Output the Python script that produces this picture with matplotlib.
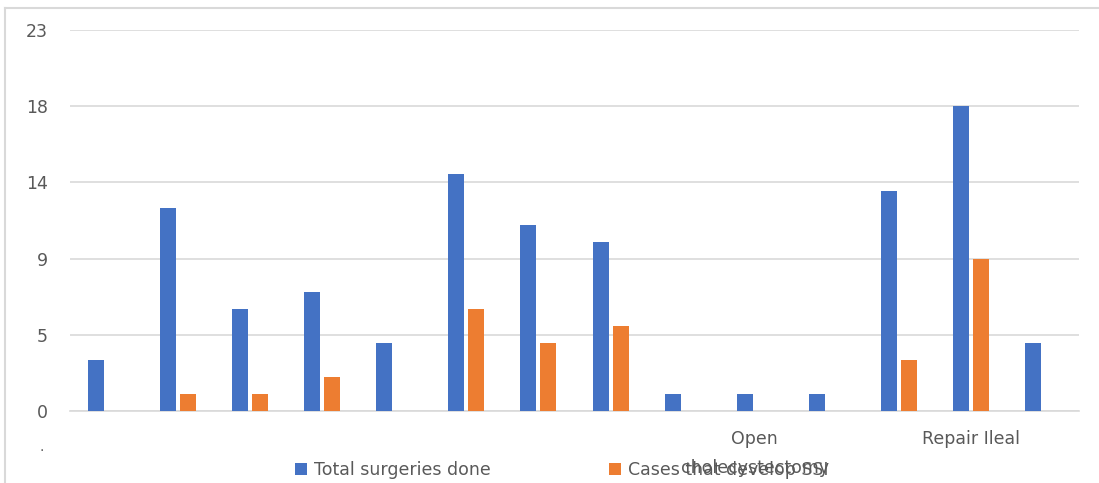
import matplotlib.pyplot as plt
import numpy as np
from matplotlib.lines import Line2D
from matplotlib.ticker import FuncFormatter

# surgery types (only two names are printed on the axis)
categories = ["", "", "", "", "", "", "", "", "",
              "Open\ncholecystectomy", "", "", "Repair Ileal", ""]
total_done = [3, 12, 6, 7, 4, 14, 11, 10, 1, 1, 1, 13, 18, 4]
ssi_cases = [0, 1, 1, 2, 0, 6, 4, 5, 0, 0, 0, 3, 9, 0]
y_ticks = [0, 4.5, 9, 13.5, 18, 22.5]

blue = "#4472c4"
orange = "#ed7d31"
grey_txt = "#595959"
grid_col = "#d9d9d9"

plt.rcParams['font.family'] = ['DejaVu Sans']

fig = plt.figure(figsize=(10.99, 4.83), dpi=100)
ax = fig.add_axes([70 / 1099, 1 - 411 / 483, 1009 / 1099, 381 / 483])

x = np.arange(len(categories))
w = 0.222
off = 0.139
ax.bar(x - off, total_done, w, color=blue, zorder=3, label="Total surgeries done")
ax.bar(x + off, ssi_cases, w, color=orange, zorder=3, label="Cases that develop SSI")

ax.set_xlim(-0.5, len(categories) - 0.5)
ax.set_ylim(0, 22.5)
ax.set_yticks(y_ticks)
# values like 4.5 and 13.5 shown rounded half up, like a spreadsheet
ax.yaxis.set_major_formatter(FuncFormatter(lambda v, p: "%d" % int(np.floor(v + 0.5))))
ax.set_xticks(x)
ax.set_xticklabels(categories, linespacing=1.75)

ax.grid(axis="y", color=grid_col, linewidth=1.2, zorder=0)
ax.tick_params(axis="both", length=0, colors=grey_txt, labelsize=12.5)
ax.tick_params(axis="y", pad=16)
ax.tick_params(axis="x", pad=14)
for s in ["top", "right", "left"]:
    ax.spines[s].set_visible(False)
ax.spines["bottom"].set_color(grid_col)
ax.spines["bottom"].set_linewidth(1.2)

leg = fig.legend(loc="center", bbox_to_anchor=(562 / 1099, 1 - 470 / 483), ncol=2,
                 frameon=False, fontsize=12.5, handlelength=0.7, handleheight=0.7,
                 handletextpad=0.4, columnspacing=6.8, labelcolor=grey_txt)

fig.text(42 / 1099, 1 - 451 / 483, ".", color=grey_txt, fontsize=10, ha="center")

# outer chart frame
fig.add_artist(Line2D([5 / 1099, 5 / 1099], [0, 1 - 8 / 483], transform=fig.transFigure,
                      color=grid_col, linewidth=1.5))
fig.add_artist(Line2D([5 / 1099, 1], [1 - 8 / 483, 1 - 8 / 483], transform=fig.transFigure,
                      color=grid_col, linewidth=1.5))

fig.savefig("out.png", dpi=100)
